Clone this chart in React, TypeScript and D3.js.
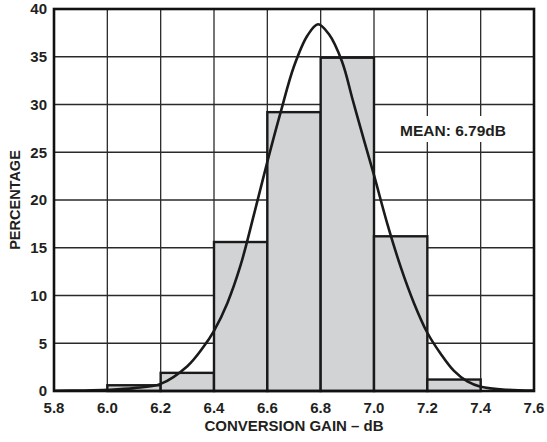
import { useEffect, useRef } from 'react';
import * as d3 from 'd3';

// histogram bins (lower edge, dB) and percentage
const binStarts = [5.8, 6.0, 6.2, 6.4, 6.6, 6.8, 7.0, 7.2, 7.4];
const binPercent = [0, 0.6, 1.9, 15.6, 29.2, 34.9, 16.2, 1.2, 0];
const binWidth = 0.2;

// fitted distribution
const curveX = [5.8, 5.9, 6.0, 6.1, 6.2, 6.3, 6.36, 6.4, 6.45, 6.5, 6.55, 6.6, 6.65, 6.7, 6.75, 6.79, 6.83, 6.88, 6.92, 6.96, 7.0, 7.05, 7.1, 7.15, 7.2, 7.25, 7.3, 7.35, 7.4, 7.5, 7.6];
const curveY = [0.02, 0.05, 0.12, 0.3, 0.75, 2.6, 4.6, 6.3, 9.2, 13.2, 18.5, 24, 29.2, 34, 37.2, 38.4, 37.4, 34.5, 30.5, 26.5, 22.6, 17.5, 13.0, 9.2, 6.1, 3.9, 2.1, 1.0, 0.45, 0.12, 0.04];

const xTicks = [5.8, 6.0, 6.2, 6.4, 6.6, 6.8, 7.0, 7.2, 7.4, 7.6];
const yTicks = [0, 5, 10, 15, 20, 25, 30, 35, 40];

const meanLabel = 'MEAN: 6.79dB';
const xTitle = 'CONVERSION GAIN – dB';
const yTitle = 'PERCENTAGE';

export default function App() {
  const svgRef = useRef<SVGSVGElement>(null);

  useEffect(() => {
    if (!svgRef.current) return;

    const width = 547;
    const height = 442;
    const margin = { top: 9, right: 13, bottom: 51, left: 54 };
    const font = 'Liberation Sans, Arial, Helvetica, sans-serif';
    const ink = '#231f20';

    const svg = d3.select(svgRef.current);
    svg.selectAll('*').remove();

    const x = d3.scaleLinear()
      .domain([5.8, 7.6])
      .range([margin.left, width - margin.right]);

    const y = d3.scaleLinear()
      .domain([0, 40])
      .range([height - margin.bottom, margin.top]);

    svg.append('rect')
      .attr('width', width)
      .attr('height', height)
      .attr('fill', '#fff');

    // grid
    svg.selectAll('.gx')
      .data(xTicks)
      .join('line')
      .attr('x1', d => x(d))
      .attr('x2', d => x(d))
      .attr('y1', y(0))
      .attr('y2', y(40))
      .attr('stroke', '#2a2a2a')
      .attr('stroke-width', 1.3);

    svg.selectAll('.gy')
      .data(yTicks)
      .join('line')
      .attr('x1', x(5.8))
      .attr('x2', x(7.6))
      .attr('y1', d => y(d))
      .attr('y2', d => y(d))
      .attr('stroke', '#2a2a2a')
      .attr('stroke-width', 1.3);

    // bars
    const bins = binStarts.map((s, i) => ({ s, v: binPercent[i] })).filter(b => b.v > 0);
    svg.selectAll('.bar')
      .data(bins)
      .join('rect')
      .attr('x', d => x(d.s))
      .attr('y', d => y(d.v))
      .attr('width', d => x(d.s + binWidth) - x(d.s))
      .attr('height', d => y(0) - y(d.v))
      .attr('fill', '#d1d3d4')
      .attr('stroke', '#1a1a1a')
      .attr('stroke-width', 2.4);

    // curve
    const pts: [number, number][] = curveX.map((cx, i) => [cx, curveY[i]]);
    const line = d3.line<[number, number]>()
      .x(d => x(d[0]))
      .y(d => y(d[1]))
      .curve(d3.curveCatmullRom.alpha(0.5));

    svg.append('path')
      .attr('d', line(pts))
      .attr('fill', 'none')
      .attr('stroke', '#1a1a1a')
      .attr('stroke-width', 2.6);

    // mean label
    svg.append('rect')
      .attr('x', 395)
      .attr('y', 116)
      .attr('width', 116)
      .attr('height', 26)
      .attr('fill', '#fff');

    svg.append('text')
      .attr('x', 453)
      .attr('y', 136)
      .attr('text-anchor', 'middle')
      .attr('font-family', font)
      .attr('font-weight', 'bold')
      .attr('font-size', 15.5)
      .attr('fill', ink)
      .text(meanLabel);

    // frame
    svg.append('rect')
      .attr('x', x(5.8))
      .attr('y', y(40))
      .attr('width', x(7.6) - x(5.8))
      .attr('height', y(0) - y(40))
      .attr('fill', 'none')
      .attr('stroke', '#111')
      .attr('stroke-width', 2.6);

    // tick labels
    svg.selectAll('.xl')
      .data(xTicks)
      .join('text')
      .attr('x', d => x(d))
      .attr('y', y(0) + 22)
      .attr('text-anchor', 'middle')
      .attr('font-family', font)
      .attr('font-weight', 'bold')
      .attr('font-size', 15)
      .attr('fill', ink)
      .text(d => d.toFixed(1));

    svg.selectAll('.yl')
      .data(yTicks)
      .join('text')
      .attr('x', x(5.8) - 7)
      .attr('y', d => y(d))
      .attr('dy', '0.36em')
      .attr('text-anchor', 'end')
      .attr('font-family', font)
      .attr('font-weight', 'bold')
      .attr('font-size', 15)
      .attr('fill', ink)
      .text(d => d);

    svg.append('text')
      .attr('x', x(6.7))
      .attr('y', 431)
      .attr('text-anchor', 'middle')
      .attr('font-family', font)
      .attr('font-weight', 'bold')
      .attr('font-size', 15)
      .attr('fill', ink)
      .text(xTitle);

    svg.append('text')
      .attr('transform', `translate(20,${y(20)}) rotate(-90)`)
      .attr('text-anchor', 'middle')
      .attr('font-family', font)
      .attr('font-weight', 'bold')
      .attr('font-size', 14.5)
      .attr('fill', ink)
      .text(yTitle);
  }, []);

  return (
    <div>
      <style>{'body{margin:0}'}</style>
      <svg ref={svgRef} width={547} height={442} style={{ display: 'block' }} />
    </div>
  );
}
